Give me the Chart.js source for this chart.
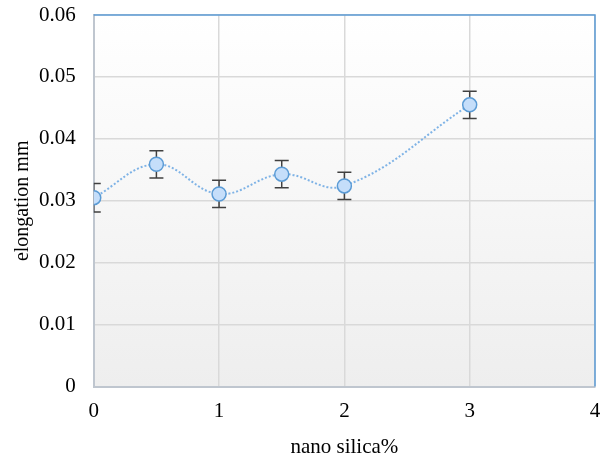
<!DOCTYPE html>
<html>
<head>
<meta charset="utf-8">
<script src="https://cdn.jsdelivr.net/npm/chart.js@4"></script>
<style>
html, body { margin: 0; padding: 0; background: #fff; }
</style>
</head>
<body>
<canvas id="grafico" width="602" height="462"></canvas>
<script>
// datos
var silica = [0, 0.5, 1, 1.5, 2, 3];
var elongation = [0.0305, 0.0359, 0.0311, 0.0343, 0.0324, 0.0455];
var errores = [0.0023, 0.0022, 0.0022, 0.0022, 0.0022, 0.0022];
var xTicks = [0, 1, 2, 3, 4];
var yTicks = [0, 0.01, 0.02, 0.03, 0.04, 0.05, 0.06];
var tituloY = 'elongation mm';
var tituloX = 'nano silica%';

var puntos = silica.map(function(x, i){ return {x: x, y: elongation[i]}; });

// fondo degradado y borde azul arriba/derecha
var fondoPlugin = {
    id: 'fondo',
    beforeDraw: function(chart){
        var a = chart.chartArea, ctx = chart.ctx;
        var g = ctx.createLinearGradient(0, a.top, 0, a.bottom);
        g.addColorStop(0, '#ffffff');
        g.addColorStop(1, '#eeeeee');
        ctx.save();
        ctx.fillStyle = g;
        ctx.fillRect(a.left, a.top, a.right - a.left, a.bottom - a.top);
        ctx.restore();
    },
    afterDraw: function(chart){
        var a = chart.chartArea, ctx = chart.ctx;
        ctx.save();
        ctx.strokeStyle = '#5b9bd5';
        ctx.lineWidth = 1.5;
        ctx.beginPath();
        ctx.moveTo(a.left, a.top);
        ctx.lineTo(a.right, a.top);
        ctx.lineTo(a.right, a.bottom);
        ctx.stroke();
        ctx.restore();
    }
};

// barras de error
var errorPlugin = {
    id: 'barrasError',
    beforeDatasetsDraw: function(chart){
        var ctx = chart.ctx, a = chart.chartArea;
        var yScale = chart.scales.y, xScale = chart.scales.x;
        ctx.save();
        ctx.beginPath();
        ctx.rect(a.left, a.top, a.right - a.left, a.bottom - a.top);
        ctx.clip();
        ctx.strokeStyle = '#404040';
        ctx.lineWidth = 1.5;
        for (var i = 0; i < silica.length; i++) {
            var px = xScale.getPixelForValue(silica[i]);
            var top = yScale.getPixelForValue(elongation[i] + errores[i]);
            var bot = yScale.getPixelForValue(elongation[i] - errores[i]);
            ctx.beginPath();
            ctx.moveTo(px, top); ctx.lineTo(px, bot);
            ctx.moveTo(px - 7, top); ctx.lineTo(px + 7, top);
            ctx.moveTo(px - 7, bot); ctx.lineTo(px + 7, bot);
            ctx.stroke();
        }
        ctx.restore();
    }
};

var ctx = document.getElementById('grafico');
var myChart = new Chart(ctx, {
    type: 'scatter',
    data: {
        datasets: [{
            label: 'elongation',
            data: puntos,
            showLine: true,
            borderColor: '#7fb3e6',
            borderWidth: 2,
            borderDash: [2, 2],
            tension: 0.4,
            pointRadius: 7,
            pointBackgroundColor: '#c5defa',
            pointBorderColor: '#5b9bd5',
            pointBorderWidth: 1.5
        }]
    },
    options: {
        responsive: false,
        animation: false,
        layout: { autoPadding: false, padding: { left: 11, right: 7, top: 15, bottom: 2 } },
        plugins: {
            legend: { display: false },
            tooltip: { enabled: false }
        },
        scales: {
            x: {
                type: 'linear',
                min: 0, max: 4,
                afterBuildTicks: function(axis){ axis.ticks = xTicks.map(function(v){ return {value: v}; }); },
                afterFit: function(axis){
                    axis.paddingLeft = 0; axis.paddingRight = 0;
                    axis.height -= axis.options.ticks.padding;
                },
                grid: { color: '#d9d9d9', lineWidth: 1.5, drawTicks: false },
                border: { color: '#bfc6cf', width: 2 },
                ticks: { color: '#000', padding: 12, font: { family: 'Liberation Serif', size: 21 } },
                title: { display: true, text: tituloX, color: '#000', padding: { top: 11, bottom: 0 }, font: { family: 'Liberation Serif', size: 21 } }
            },
            y: {
                min: 0, max: 0.06,
                afterBuildTicks: function(axis){ axis.ticks = yTicks.map(function(v){ return {value: v}; }); },
                afterFit: function(axis){
                    axis.paddingTop = 0; axis.paddingBottom = 0;
                    axis.width -= axis.options.ticks.padding;
                },
                grid: { color: '#d9d9d9', lineWidth: 1.5, drawTicks: false },
                border: { color: '#bfc6cf', width: 2 },
                ticks: {
                    color: '#000', padding: 18,
                    font: { family: 'Liberation Serif', size: 21 },
                    callback: function(v){ return String(parseFloat(v.toFixed(2))); }
                },
                title: { display: true, text: tituloY, color: '#000', padding: { top: 0, bottom: 4 }, font: { family: 'Liberation Serif', size: 20 } }
            }
        }
    },
    plugins: [fondoPlugin, errorPlugin]
});
</script>
</body>
</html>
